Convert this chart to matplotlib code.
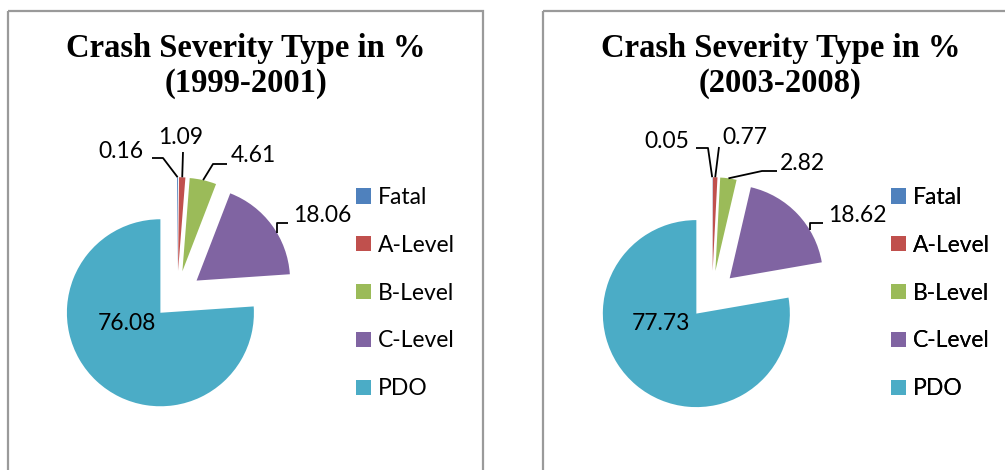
import matplotlib
matplotlib.use('Agg')
import matplotlib.pyplot as plt
import numpy as np
from matplotlib.patches import Rectangle

# ---- data ----
categories = ['Fatal', 'A-Level', 'B-Level', 'C-Level', 'PDO']
values_1999_2001 = [0.16, 1.09, 4.61, 18.06, 76.08]
values_2003_2008 = [0.05, 0.77, 2.82, 18.62, 77.73]
periods = ['(1999-2001)', '(2003-2008)']
title_text = 'Crash Severity Type in %'
colors = ['#4F81BD', '#C0504D', '#9BBB59', '#8064A2', '#4BACC6']

LABEL_FONT = ['Lato', 'DejaVu Sans']
TITLE_FONT = ['Liberation Serif', 'DejaVu Serif']
FS = 16.5

W, H = 1005, 470
fig = plt.figure(figsize=(W / 100, H / 100), dpi=100)
ax = fig.add_axes([0, 0, 1, 1])
ax.set_xlim(0, W)
ax.set_ylim(H, 0)  # pixel-like coordinates, y downward
ax.set_aspect('equal')
ax.axis('off')

panels = [values_1999_2001, values_2003_2008]
offsets = [0, 535]
R = 93.5
EXPLODE = 0.26

# label layout per panel: text centre, leader start, elbow, mode
# mode 'mid' -> leader ends at mid-arc point; 'down' -> drops vertically onto arc
label_layout = [
    [((121, 152), (152, 158), (163, 158), 'mid'),
     ((181, 137), (183, 152), None, 'mid'),
     ((253, 156), (227, 164), (213, 164), 'mid'),
     ((322, 215), (288, 223), (277, 223), 'down'),
     ((127, 323), None, None, None)],
    [((132, 142), (161, 148), (173, 148), 'mid'),
     ((210, 137), (184, 147), None, 'mid'),
     ((267, 163), (242, 171), (227, 171), 'mid'),
     ((322, 215), (288, 223), (275, 223), 'down'),
     ((126, 323), None, None, None)],
]

for p, (vals, dx) in enumerate(zip(panels, offsets)):
    # border
    ax.add_patch(Rectangle((8 + dx, 11), 475, 480, fill=False,
                           edgecolor='#9a9a9a', lw=1.6, clip_on=False))
    # title
    ax.text(245.5 + dx, 66, title_text + '\n' + periods[p], ha='center',
            va='center', fontsize=23.5, fontweight='bold', family=TITLE_FONT,
            linespacing=1.12, multialignment='center')
    # pie (explode given in data units = fraction * radius)
    wedges, _ = ax.pie(vals, colors=colors, startangle=-90, counterclock=True,
                       center=(177 + dx, 295), radius=R,
                       explode=[EXPLODE * R] * len(vals), frame=True,
                       wedgeprops=dict(linewidth=0))
    ax.set_xlim(0, W)
    ax.set_ylim(H, 0)
    ax.axis('off')
    # data labels
    for i, (w, v) in enumerate(zip(wedges, vals)):
        (tx, ty), start, elbow, mode = label_layout[p][i]
        ax.text(tx + dx, ty, f'{v:.2f}', ha='center', va='center',
                fontsize=FS, family=LABEL_FONT, color='black')
        if start is None:
            continue
        cx, cy = w.center
        if mode == 'down' and elbow is not None:
            ex = elbow[0] + dx
            ddx = ex - cx
            end = (ex, cy - np.sqrt(max(w.r ** 2 - ddx ** 2, 0)))
        else:
            th = np.deg2rad((w.theta1 + w.theta2) / 2)
            end = (cx + w.r * np.cos(th), cy + w.r * np.sin(th))
        pts = [(start[0] + dx, start[1])]
        if elbow is not None:
            pts.append((elbow[0] + dx, elbow[1]))
        pts.append(end)
        xs, ys = zip(*pts)
        ax.plot(xs, ys, color='black', lw=1.3, solid_capstyle='butt')
    # legend
    leg = ax.legend(wedges, categories, loc='upper left',
                    bbox_to_anchor=(356 + dx, 187), bbox_transform=ax.transData,
                    frameon=False, borderpad=0, borderaxespad=0,
                    handlelength=0.65, handleheight=0.65, handletextpad=0.3,
                    labelspacing=1.17,
                    prop=dict(family=LABEL_FONT, size=FS))
    ax.add_artist(leg)

fig.savefig('out.png', dpi=100, facecolor='white')
